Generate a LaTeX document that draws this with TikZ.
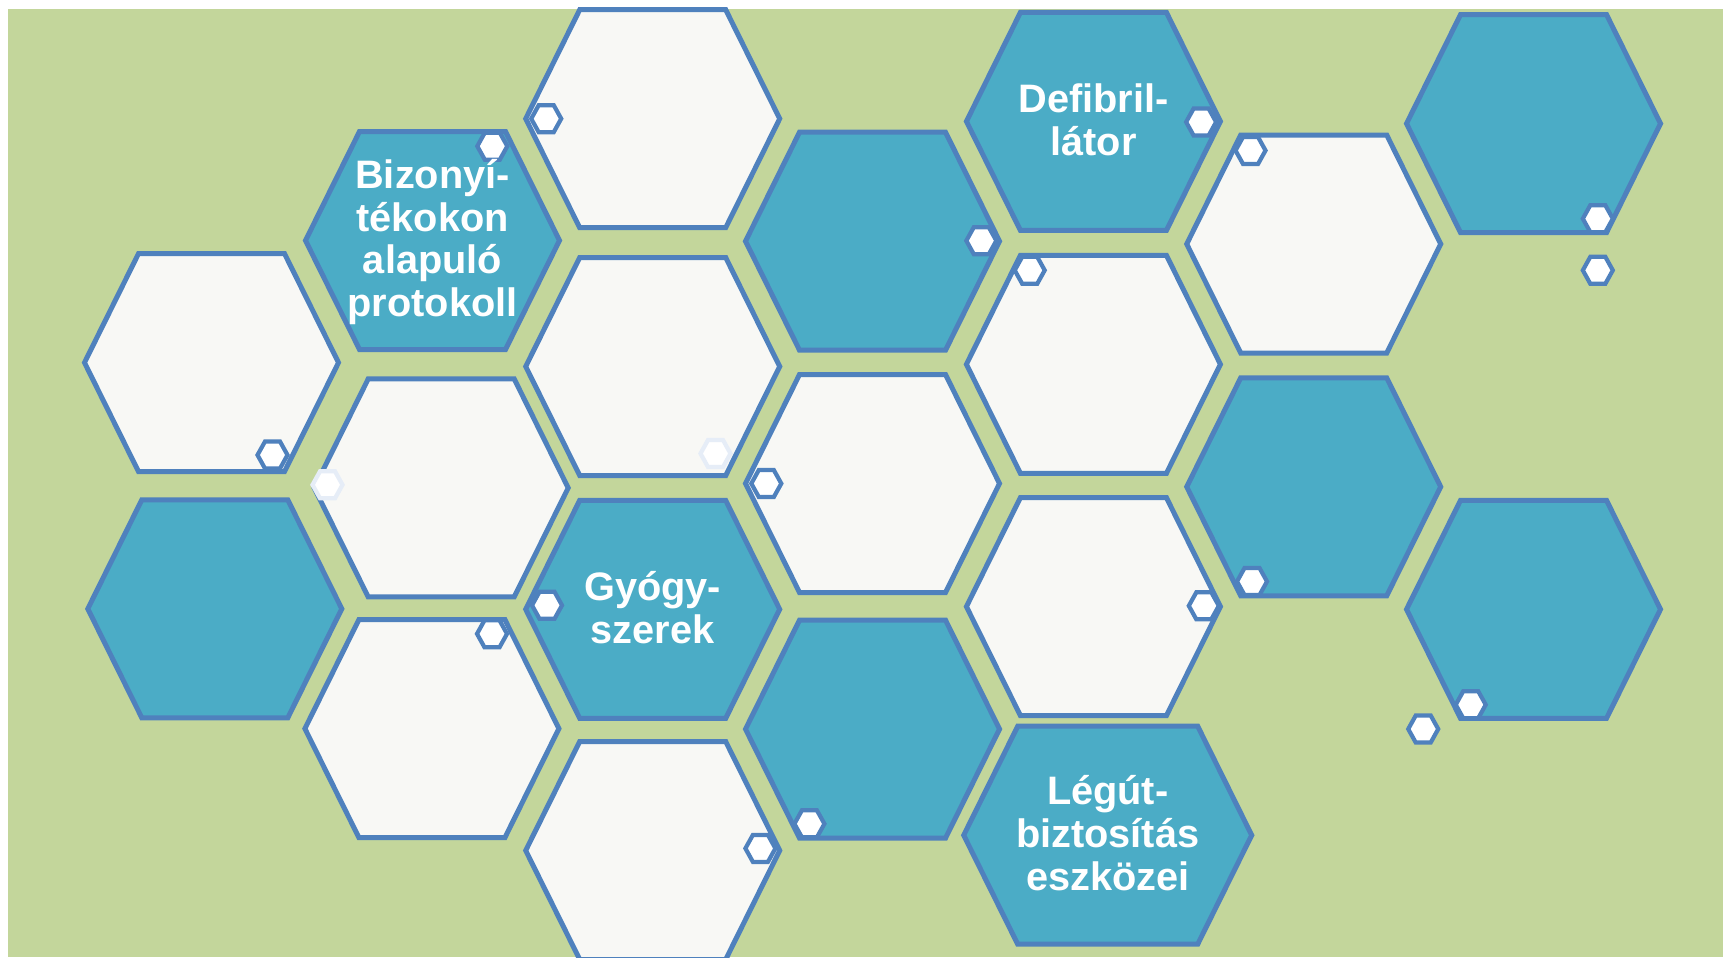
\documentclass[tikz,border=0pt]{standalone}
\usepackage{fontspec}
\setmainfont{Liberation Sans}
\usepackage{tikz}

\definecolor{leafgreen}{HTML}{C3D69B}
\definecolor{cellteal}{HTML}{4BACC6}
\definecolor{cellblue}{HTML}{4F81BD}
\definecolor{cellwhite}{HTML}{F8F8F5}
\definecolor{paleblue}{HTML}{E6EDF7}

\newcommand{\bigcell}[3]{\draw[cell, fill=#3, shift={(#1,#2)}] (-127,0) -- (-73,-109) -- (73,-109) -- (127,0) -- (73,109) -- (-73,109) -- cycle;}
\newcommand{\smallcell}[3]{\draw[tinycell, draw=#3, shift={(#1,#2)}] (-15,0) -- (-7.5,-13.5) -- (7.5,-13.5) -- (15,0) -- (7.5,13.5) -- (-7.5,13.5) -- cycle;}

\begin{document}
\begin{tikzpicture}[x=0.1mm, y=-0.1mm,
  cell/.style={draw=cellblue, line width=0.5mm},
  tinycell/.style={fill=white, line width=0.42mm},
  celltext/.style={text=white, font=\fontsize{11.3}{12.2}\selectfont\bfseries, align=center, inner sep=0pt}]
  \useasboundingbox (0,0) rectangle (1723,957);
  \clip (0,0) rectangle (1723,957);
  \fill[leafgreen] (8,9) rectangle (1723,957);

  \bigcell{211.5}{362.6}{cellwhite}
  \bigcell{214.8}{608.8}{cellteal}

  \bigcell{432.5}{240.5}{cellteal}
  \bigcell{441.2}{487.9}{cellwhite}
  \bigcell{431.9}{728.6}{cellwhite}

  \bigcell{652.7}{118.7}{cellwhite}
  \bigcell{652.7}{366.5}{cellwhite}
  \bigcell{652.7}{609.3}{cellteal}
  \bigcell{652.7}{850.5}{cellwhite}

  \bigcell{872.5}{241.2}{cellteal}
  \bigcell{872.5}{483.5}{cellwhite}
  \bigcell{872.5}{729.1}{cellteal}

  \bigcell{1093.4}{121.4}{cellteal}
  \bigcell{1093.4}{364.3}{cellwhite}
  \bigcell{1093.4}{606.6}{cellwhite}
  % wider cell
  \draw[cell, fill=cellteal, shift={(1107.7,835.2)}] (-144,0) -- (-90,-109) -- (90,-109) -- (144,0) -- (90,109) -- (-90,109) -- cycle;

  \bigcell{1313.7}{244}{cellwhite}
  \bigcell{1313.7}{486.8}{cellteal}

  \bigcell{1533.5}{123.6}{cellteal}
  \bigcell{1533.5}{609.3}{cellteal}

  % little cells
  \smallcell{546.2}{118.7}{cellblue}
  \smallcell{492.3}{146.2}{cellblue}
  \smallcell{981.3}{240.7}{cellblue}
  \smallcell{1201.1}{122}{cellblue}
  \smallcell{1250.5}{150.5}{cellblue}
  \smallcell{1029.7}{270.3}{cellblue}
  \smallcell{1597.8}{218.7}{cellblue}
  \smallcell{1597.8}{270.3}{cellblue}
  \smallcell{272.5}{455}{cellblue}
  \smallcell{327.5}{484.8}{paleblue}
  \smallcell{715.5}{453.5}{paleblue}
  \smallcell{766.3}{483.5}{cellblue}
  \smallcell{547}{605.3}{cellblue}
  \smallcell{492}{633.8}{cellblue}
  \smallcell{1203.8}{605.8}{cellblue}
  \smallcell{1252}{581.5}{cellblue}
  \smallcell{1470.7}{704.7}{cellblue}
  \smallcell{1423.2}{729}{cellblue}
  \smallcell{809.4}{823.8}{cellblue}
  \smallcell{760.4}{848.4}{cellblue}

  \node[celltext] (proto) at (432.5,242) {Bizonyí-\\tékokon\\alapuló\\protokoll};
  \node[celltext] (defib) at (1093.4,120) {Defibril-\\látor};
  \node[celltext] (drugs) at (652.7,608) {Gyógy-\\szerek};
  \node[celltext] (airway) at (1107.7,833) {Légút-\\biztosítás\\eszközei};
\end{tikzpicture}
\end{document}
